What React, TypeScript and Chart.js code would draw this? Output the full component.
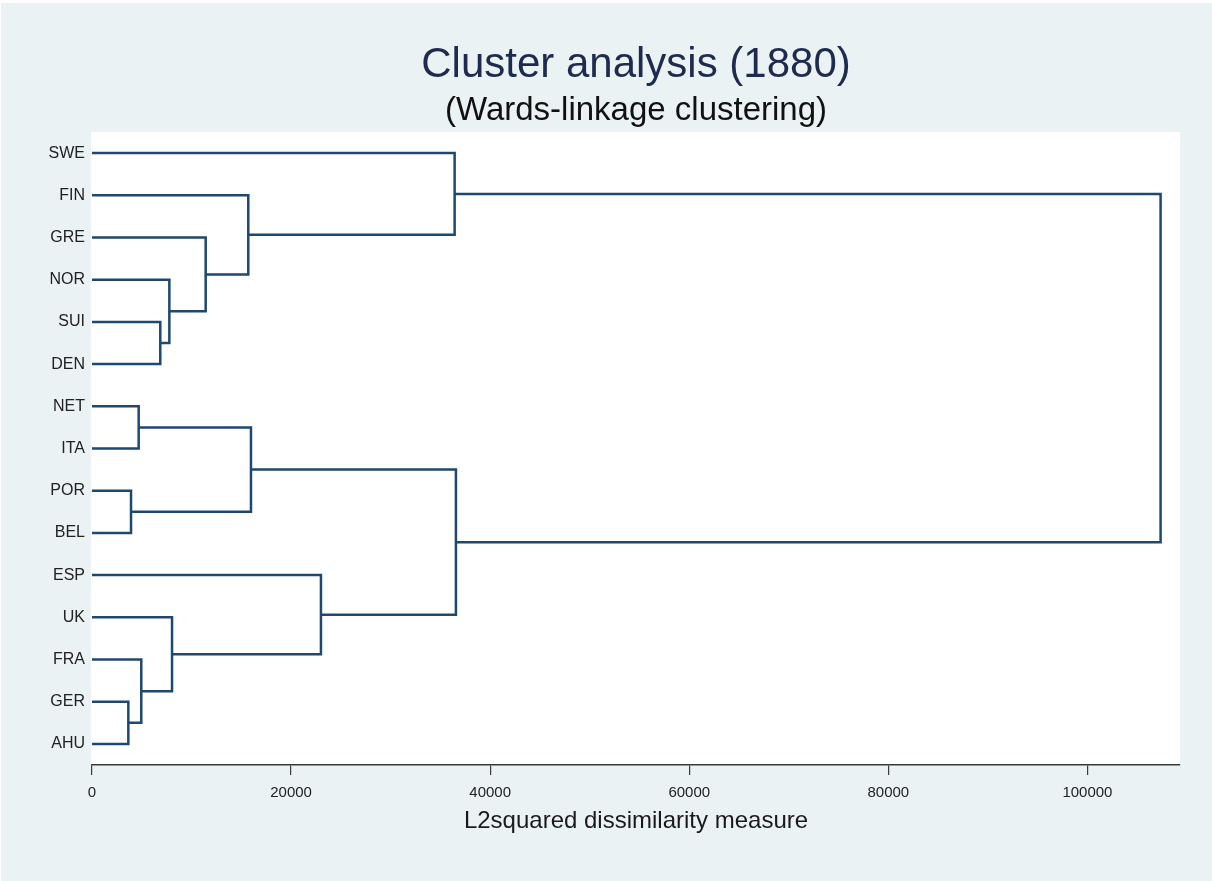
import React, { useEffect, useRef } from "react";
import { Chart, registerables } from "chart.js";

Chart.register(...registerables);

// Leaf order (top to bottom)
const leaves = ["SWE", "FIN", "GRE", "NOR", "SUI", "DEN", "NET", "ITA", "POR", "BEL", "ESP", "UK", "FRA", "GER", "AHU"];

// Merges: node ids 0..14 are leaves, merge k creates node 15+k
const mergeLeft = [4, 3, 2, 1, 0, 6, 8, 20, 13, 12, 11, 10, 22, 19];
const mergeRight = [5, 15, 16, 17, 18, 7, 9, 21, 14, 23, 24, 25, 26, 27];
const mergeHeight = [6860, 7770, 11420, 15700, 36430, 4690, 3920, 15970, 3650, 4950, 8040, 23000, 36560, 107350];

const xTickValues = [0, 20000, 40000, 60000, 80000, 100000];
const xMax = 109300;

const TITLE = "Cluster analysis (1880)";
const SUBTITLE = "(Wards-linkage clustering)";
const X_TITLE = "L2squared dissimilarity measure";

const FONT = "'Liberation Sans', Arial, Helvetica, sans-serif";
const LINE_COLOR = "#1e4870";

export default function App() {
  const ref = useRef<HTMLCanvasElement | null>(null);

  useEffect(() => {
    document.body.style.margin = "0";
    const canvas = ref.current;
    if (!canvas) return;

    // node positions
    const nodeX: number[] = leaves.map(() => 0);
    const nodeY: number[] = leaves.map((_, i) => i);
    mergeHeight.forEach((h, k) => {
      const a = mergeLeft[k];
      const b = mergeRight[k];
      nodeX.push(h);
      nodeY.push((nodeY[a] + nodeY[b]) / 2);
    });

    const datasets = mergeHeight.map((h, k) => {
      const a = mergeLeft[k];
      const b = mergeRight[k];
      return {
        data: [
          { x: nodeX[a], y: nodeY[a] },
          { x: h, y: nodeY[a] },
          { x: h, y: nodeY[b] },
          { x: nodeX[b], y: nodeY[b] },
        ],
        showLine: true,
        borderColor: LINE_COLOR,
        backgroundColor: LINE_COLOR,
        borderWidth: 2.5,
        pointRadius: 0,
        borderJoinStyle: "miter" as const,
        borderCapStyle: "butt" as const,
        tension: 0,
      };
    });

    const bgPlugin = {
      id: "bg",
      beforeDraw(chart: any) {
        const { ctx, chartArea, width, height } = chart;
        ctx.save();
        ctx.fillStyle = "#ffffff";
        ctx.fillRect(0, 0, width, height);
        ctx.fillStyle = "#eaf2f3";
        ctx.fillRect(1, 3, width - 1, height - 3);
        ctx.fillStyle = "#ffffff";
        ctx.fillRect(chartArea.left - 1, chartArea.top, chartArea.right - chartArea.left + 1, chartArea.bottom - chartArea.top);
        ctx.restore();
      },
    };

    const chart = new Chart(canvas, {
      type: "scatter",
      data: { datasets },
      plugins: [bgPlugin],
      options: {
        responsive: false,
        animation: false,
        events: [],
        layout: { padding: { left: 0, right: 32, top: 0, bottom: 0 } },
        plugins: {
          legend: { display: false },
          tooltip: { enabled: false },
          title: {
            display: true,
            fullSize: false,
            text: TITLE,
            color: "#1e2a4e",
            font: { family: FONT, size: 42, weight: "normal", lineHeight: 1.2 },
            padding: { top: 40, bottom: 0 },
          },
          subtitle: {
            display: true,
            fullSize: false,
            text: SUBTITLE,
            color: "#111111",
            font: { family: FONT, size: 33, weight: "normal", lineHeight: 1.2 },
            padding: { top: 1, bottom: 1 },
          },
        },
        scales: {
          x: {
            type: "linear",
            min: 0,
            max: xMax,
            afterBuildTicks: (scale: any) => {
              scale.ticks = xTickValues.map((v) => ({ value: v }));
            },
            grid: {
              display: true,
              drawOnChartArea: false,
              drawTicks: true,
              tickLength: 10,
              color: "#3a3a3a",
              lineWidth: 1.2,
            },
            border: { display: true, color: "#3a3a3a", width: 1.5 },
            ticks: {
              color: "#222222",
              font: { family: FONT, size: 15 },
              padding: 9,
              maxRotation: 0,
              autoSkip: false,
              callback: (v: any) => String(v),
            },
            title: {
              display: true,
              text: X_TITLE,
              color: "#1a1a1a",
              font: { family: FONT, size: 24, lineHeight: 1.2 },
              padding: { top: 0, bottom: 45 },
            },
            afterFit: (scale: any) => {
              scale.height = 881 - 765;
            },
          },
          y: {
            type: "linear",
            min: -0.5,
            max: leaves.length - 0.5,
            reverse: true,
            grid: { display: false, drawTicks: false },
            border: { display: false },
            afterBuildTicks: (scale: any) => {
              scale.ticks = leaves.map((_, i) => ({ value: i }));
            },
            ticks: {
              color: "#222222",
              font: { family: FONT, size: 16 },
              padding: 7,
              autoSkip: false,
              callback: (v: any) => leaves[Math.round(Number(v))] ?? "",
            },
            afterFit: (scale: any) => {
              scale.width = 92;
            },
          },
        },
      },
    });

    return () => {
      chart.destroy();
    };
  }, []);

  return (
    <div style={{ width: 1212, height: 881 }}>
      <canvas ref={ref} width={1212} height={881} style={{ display: "block", width: 1212, height: 881 }} />
    </div>
  );
}
